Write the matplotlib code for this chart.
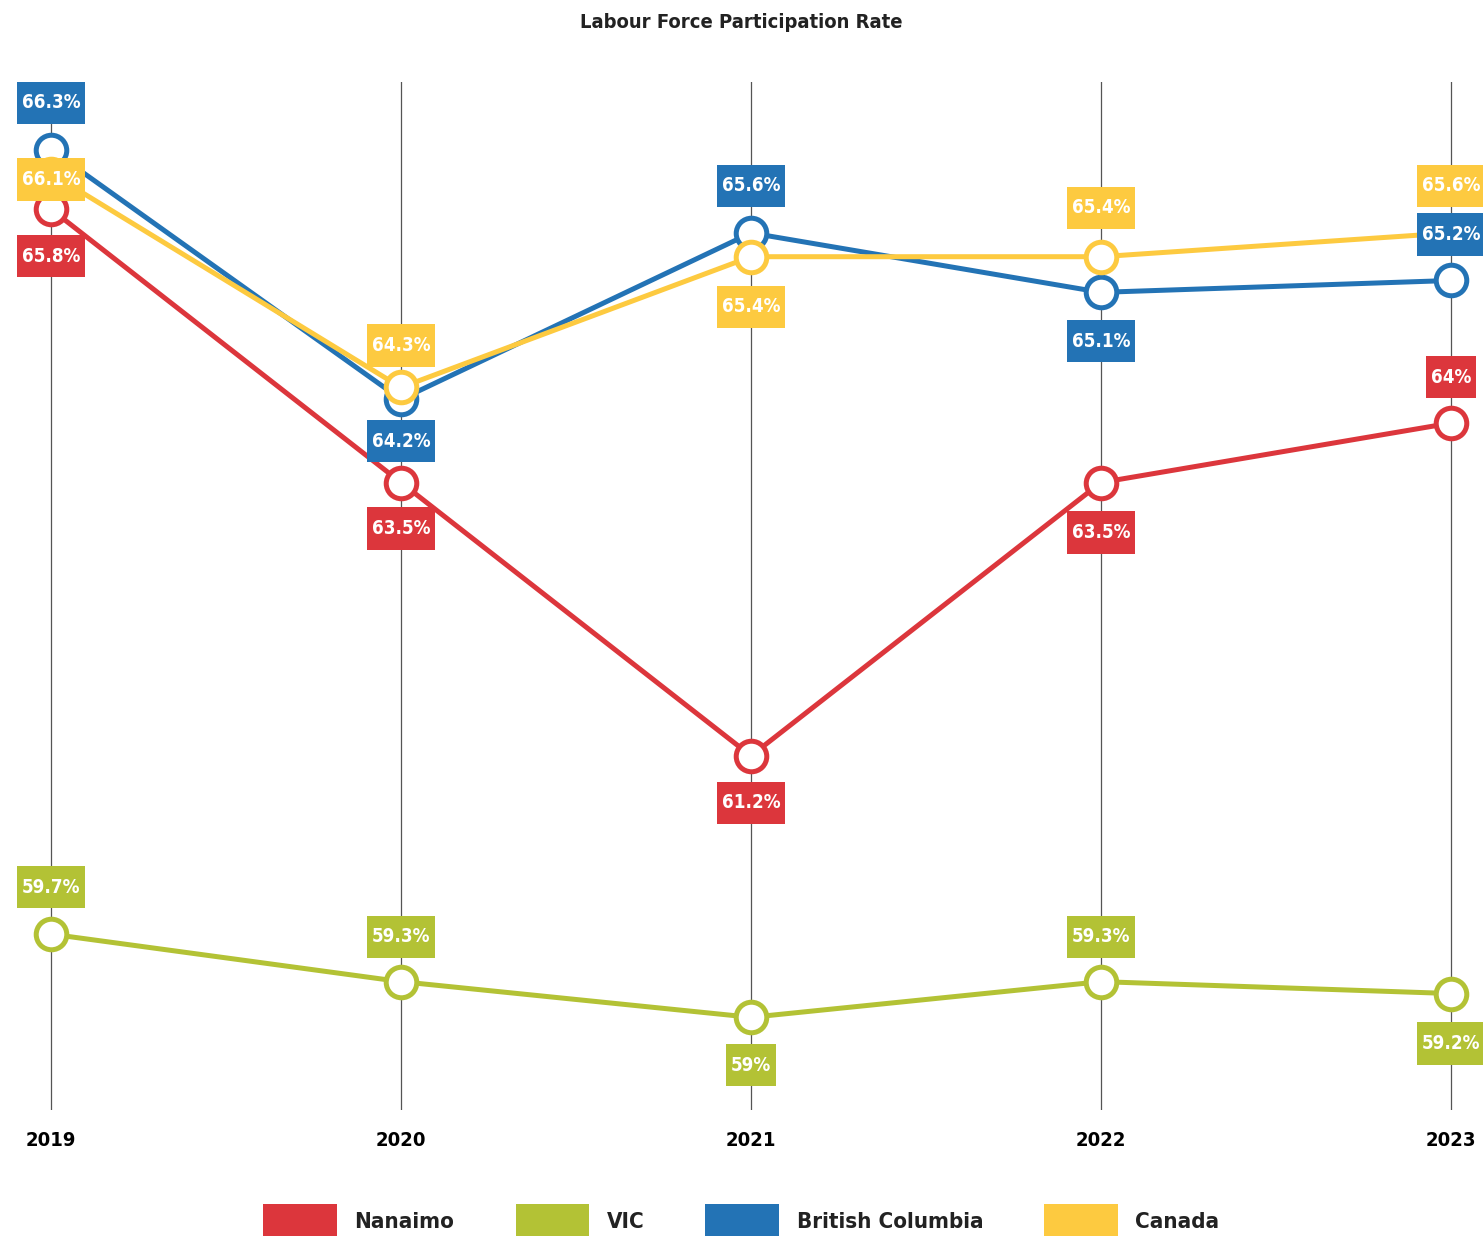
import matplotlib
matplotlib.use("Agg")
import matplotlib.pyplot as plt
from matplotlib.patches import Patch
from matplotlib.path import Path

years = [2019, 2020, 2021, 2022, 2023]
series_names = ["Nanaimo", "VIC", "British Columbia", "Canada"]
nanaimo = [65.8, 63.5, 61.2, 63.5, 64.0]
vic = [59.7, 59.3, 59.0, 59.3, 59.2]
british_columbia = [66.3, 64.2, 65.6, 65.1, 65.2]
canada = [66.1, 64.3, 65.4, 65.4, 65.6]
colors = ["#DC363C", "#B3C235", "#2373B5", "#FDCA40"]

# vertical label offsets in pixels (positive = above the point)
label_shift = [
    [-47, -46, -47, -50, 46],
    [47, 45, -48, 45, -50],
    [47, -42, 47, -49, 46],
    [-6, 42, -50, 49, 47],
]

FONT = dict(family="DejaVu Sans", fontstretch="condensed", fontweight="bold")


def label_box(x0, y0, width, height, mutation_size):
    """Flat rectangle: narrow side padding, taller fixed height."""
    padx = 0.27 * mutation_size
    h = 2.25 * mutation_size
    cy = y0 + height / 2
    xa, xb = x0 - padx, x0 + width + padx
    ya, yb = cy - h / 2, cy + h / 2
    return Path([(xa, ya), (xb, ya), (xb, yb), (xa, yb), (xa, ya)],
                closed=True)


fig = plt.figure(figsize=(14.83, 12.36), dpi=100)
W, H = 1483, 1236
x_left_px, x_right_px = 51, 1451
px_per_year = (x_right_px - x_left_px) / (years[-1] - years[0])
ax = fig.add_axes([0, (H - 1110) / H, 1, (1110 - 82) / H])
ax.set_xlim(years[0] - x_left_px / px_per_year, years[-1] + (W - x_right_px) / px_per_year)
ax.set_ylim(58.22, 66.87)
for s in ax.spines.values():
    s.set_visible(False)
ax.set_yticks([])
ax.set_xticks(years)
ax.set_xticklabels([str(y) for y in years], fontsize=14.5, color="black", **FONT)
ax.tick_params(axis="x", length=0, pad=15)
for y in years:
    ax.axvline(y, color="#555555", lw=0.9, zorder=0)

all_series = [nanaimo, vic, british_columbia, canada]
for i, (vals, col) in enumerate(zip(all_series, colors)):
    ax.plot(years, vals, color=col, lw=3.6, marker="o", ms=22, mfc="white",
            mec=col, mew=3.6, zorder=2 + i)

for i, (vals, col) in enumerate(zip(all_series, colors)):
    for x, v, dy in zip(years, vals, label_shift[i]):
        txt = f"{v:g}%"
        ax.annotate(txt, (x, v), xytext=(0, dy), textcoords="offset pixels",
                    ha="center", va="center", color="white", fontsize=13.5,
                    bbox=dict(boxstyle=label_box, fc=col, ec="none"),
                    zorder=10, **FONT)

fig.text(0.5, 1 - 22 / H, "Labour Force Participation Rate", ha="center",
         va="center", fontsize=14.5, color="#222222", **FONT)

handles = [Patch(facecolor=c, edgecolor="none") for c in colors]
leg = fig.legend(handles, series_names, loc="center", bbox_to_anchor=(0.5, 1 - 1221 / H),
                 ncol=4, frameon=False, handlelength=3.3,
                 handleheight=1.95, handletextpad=0.8, columnspacing=2.75,
                 prop=dict(family="DejaVu Sans", stretch="condensed", weight="bold", size=16))
for t in leg.get_texts():
    t.set_color("#222222")

fig.savefig("out.png", dpi=100)
